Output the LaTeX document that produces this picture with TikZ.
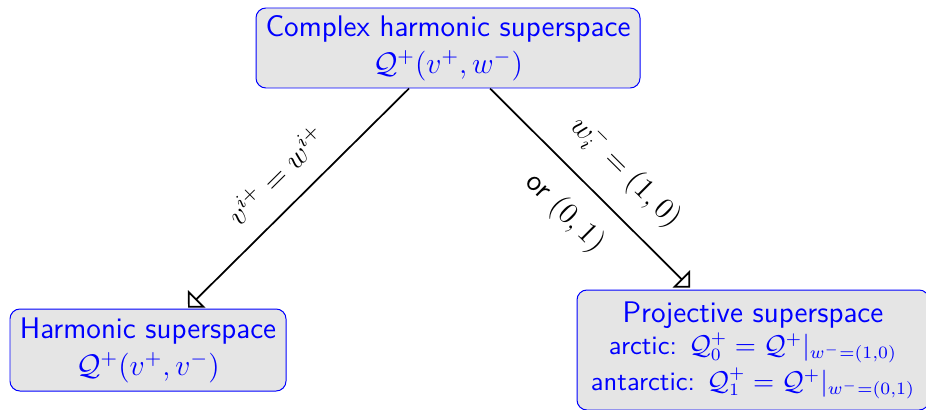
\documentclass[tikz,border=0pt]{standalone}
\usetikzlibrary{arrows.meta,calc}
\def\upx{0.403pt}
\begin{document}
\begin{tikzpicture}[x=\upx,y=-\upx,
  box/.style={draw=blue, fill=gray!20, rounded corners=4pt, text=blue, align=center, font=\sffamily, inner sep=1pt},
  conn/.style={line width=0.7pt, -{Triangle[open,angle=90:7pt]}},
  lab/.style={sloped, font=\large, inner sep=0pt}]
\useasboundingbox (0,0) rectangle (926,409);
\node[box, minimum width=384*\upx, minimum height=80*\upx] (top) at (448,48)
  {{\large Complex harmonic superspace}\\[3pt] {\large $\mathcal{Q}^+(v^+,w^-)$}};
\node[box, minimum width=276*\upx, minimum height=82*\upx] (left) at (148,350)
  {{\large Harmonic superspace}\\[3pt] {\large $\mathcal{Q}^+(v^+,v^-)$}};
\node[box, minimum width=352*\upx, minimum height=120*\upx] (right) at (753,350)
  {{\large Projective superspace}\\[1pt]
   \fontsize{10.7}{13}\selectfont arctic: $\mathcal{Q}^+_0=\mathcal{Q}^+|_{w^-=(1,0)}$\\[1pt]
   \fontsize{10.7}{13}\selectfont antarctic: $\mathcal{Q}^+_1=\mathcal{Q}^+|_{w^-=(0,1)}$};
\draw[conn] ($(top.south)+(-39,0)$) -- node[lab, above=8pt] (l1) {$v^{i+}=w^{i+}$} ($(left.north)+(40,-1)$);
\draw[conn] ($(top.south)+(42,0)$) -- node[lab, pos=0.55, above=8pt] (l2) {$w_i^-=(1,0)$}
  node[lab, pos=0.5, below=8pt] (l3) {\sffamily or $(0,1)$} ($(right.north)+(-63,-2)$);
\end{tikzpicture}
\end{document}
